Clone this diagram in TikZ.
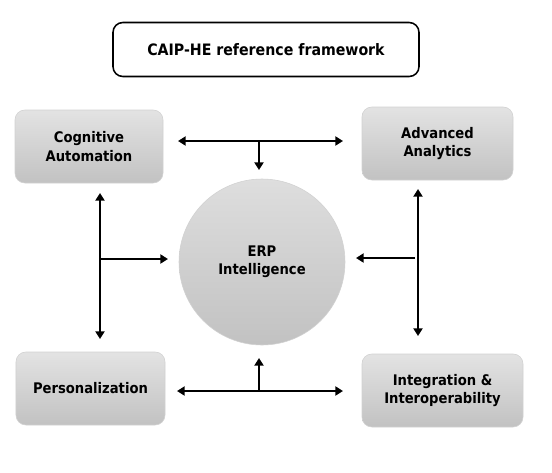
\documentclass[tikz,border=0pt]{standalone}
\usepackage{fontspec}
\setmainfont{DejaVu Sans Condensed}
\usetikzlibrary{arrows.meta}

\begin{document}
\begin{tikzpicture}[
    block/.style={rectangle, rounded corners=7pt, draw=black!18, top color=black!11, bottom color=black!24,
        minimum width=3.7cm, minimum height=1.825cm, align=center, font=\fontsize{10.4}{13}\selectfont\bfseries},
    hub/.style={circle, draw=black!18, top color=black!13, bottom color=black!24, minimum size=4.15cm,
        align=center, font=\fontsize{10.4}{13}\selectfont\bfseries},
    link/.style={line width=1.4pt, {Triangle[length=5.5pt, width=6.5pt]}-{Triangle[length=5.5pt, width=6.5pt]}},
    feed/.style={line width=1.4pt, -{Triangle[length=5.5pt, width=6.5pt]}}]
\useasboundingbox (0, 0) rectangle (13.8, -11.8);

\node at (6.65, -1.2375) [rectangle, rounded corners=7pt, draw, line width=1.1pt, minimum width=7.65cm,
    minimum height=1.35cm, font=\fontsize{11.2}{13}\selectfont\bfseries] (title) {CAIP-HE reference framework};

\node at (2.225, -3.6625) [block] (cog) {Cognitive\\Automation};
\node at (10.9375, -3.5875) [block, minimum width=3.775cm] (ana) {Advanced\\Analytics};
\node at (2.2625, -9.7125) [block, minimum width=3.725cm] (per) {Personalization};
\node at (11.0625, -9.7625) [block, minimum width=4.025cm] (int) {Integration \&\\Interoperability};

\node at (6.55, -6.55) [hub] (erp) {ERP\\Intelligence};

    %top and bottom links
    \coordinate (tl) at (4.45, -3.525);
    \coordinate (tr) at (8.575, -3.525);
    \coordinate (tm) at (6.475, -3.525);
    \coordinate (bl) at (4.425, -9.775);
    \coordinate (br) at (8.575, -9.775);
    \coordinate (bm) at (6.475, -9.775);
    \draw [link] (tl) -- (tr);
    \draw [feed] (tm) -- (6.475, -4.25) coordinate (td);
    \draw [link] (bl) -- (br);
    \draw [feed] (bm) -- (6.475, -8.95) coordinate (bu);

    %side links
    \coordinate (lt) at (2.5, -4.825);
    \coordinate (lb) at (2.5, -8.475);
    \coordinate (lm) at (2.5, -6.475);
    \coordinate (rt) at (10.45, -4.725);
    \coordinate (rb) at (10.45, -8.4);
    \coordinate (rm) at (10.375, -6.45);
    \draw [link] (lt) -- (lb);
    \draw [feed] (lm) -- (4.2, -6.475) coordinate (le);
    \draw [link] (rt) -- (rb);
    \draw [feed] (rm) -- (8.9, -6.45) coordinate (re);
\end{tikzpicture}
\end{document}
